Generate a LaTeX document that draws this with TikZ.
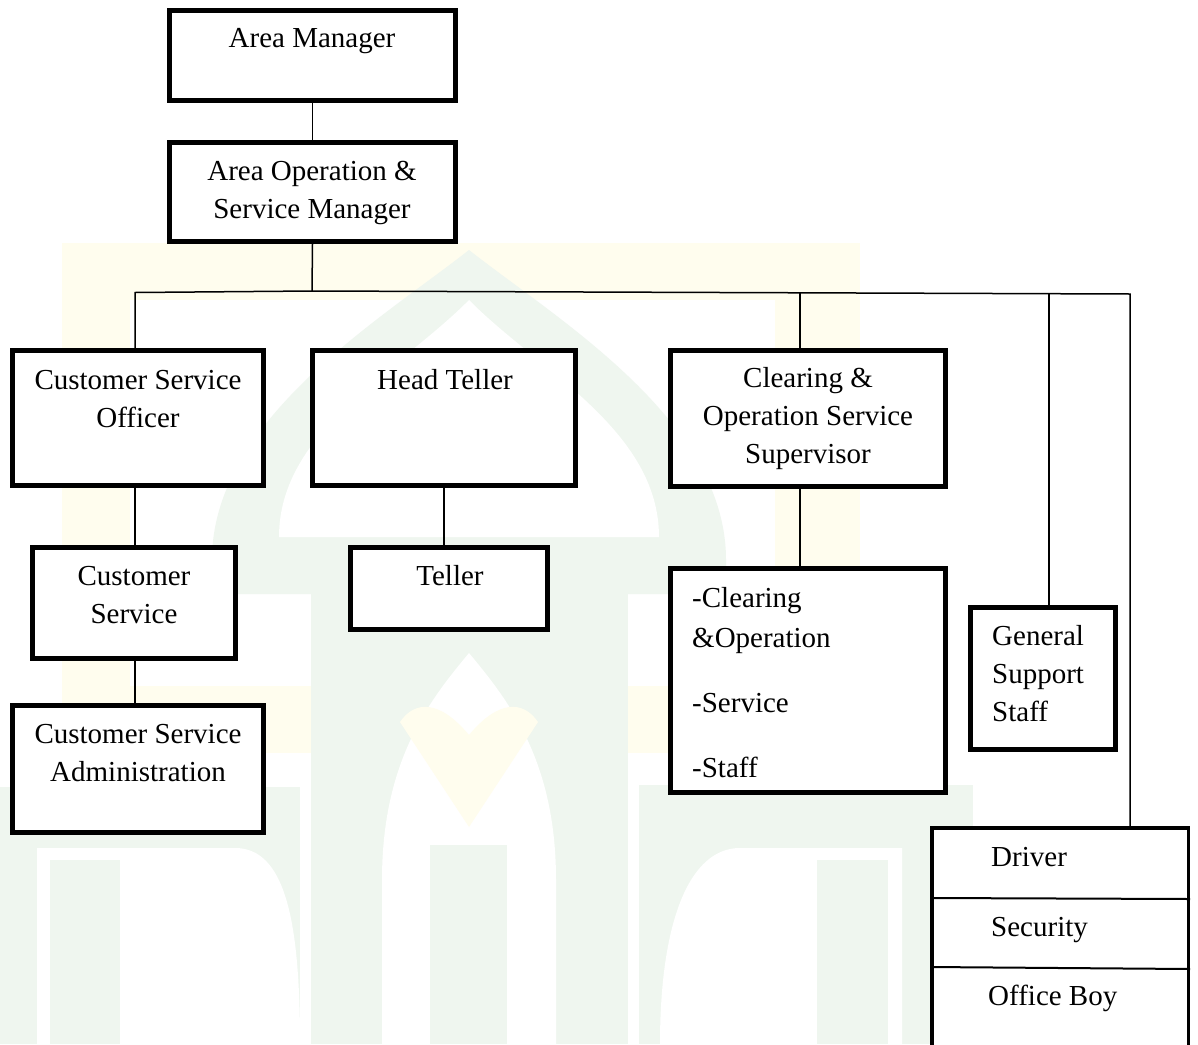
\documentclass[tikz,border=0pt]{standalone}
\usepackage{fontspec}
\setmainfont{Liberation Serif}
\usetikzlibrary{calc}
\definecolor{wmg}{RGB}{239,246,239}
\definecolor{wmy}{RGB}{255,253,238}
\tikzset{
  orgbox/.style={draw=black, line width=5pt, inner sep=0pt, fill=white},
  thinbox/.style={draw=black, line width=3.5pt, inner sep=0pt, fill=white},
  link/.style={draw=black, line width=1.5pt},
  divider/.style={draw=black, line width=2pt},
  ctxt/.style={inner sep=0pt, anchor=north, align=center, font=\fontsize{29}{38}\selectfont},
  ltxt/.style={inner sep=0pt, anchor=north west, align=left, font=\fontsize{29}{38}\selectfont},
}
\begin{document}
\begin{tikzpicture}[x=1pt,y=-1pt]
\useasboundingbox (0,0) rectangle (1198,1044);
\fill[white] (0,0) rectangle (1198,1044);
% faint watermark
\begin{scope}
\clip (0,0) rectangle (1198,1044);
% yellow frame
\fill[wmy] (62,243) rectangle (130,753);
\fill[wmy] (62,686) rectangle (324,753);
\fill[wmy] (775,243) rectangle (860,753);
\fill[wmy] (628,686) rectangle (860,753);
\fill[wmy] (130,243) rectangle (775,300);
% green dome
\fill[wmg] (212,594) -- (212,560) .. controls (212,420) and (380,320) .. (469,250)
  .. controls (558,320) and (726,420) .. (726,560) -- (726,594) -- cycle;
\fill[white] (279,537) .. controls (279,430) and (400,370) .. (469,300)
  .. controls (538,370) and (659,430) .. (659,537) -- cycle;
% inner arch
\fill[wmg] (311,594) rectangle (628,1044);
\fill[white] (382,1044) -- (382,880) .. controls (382,760) and (430,700) .. (469,653)
  .. controls (508,700) and (556,760) .. (556,880) -- (556,1044) -- cycle;
\fill[wmy] (400,722) .. controls (415,700) and (440,700) .. (469,735)
  .. controls (498,700) and (523,700) .. (538,722) -- (469,827) -- cycle;
\fill[wmg] (430,845) rectangle (507,1044);
% left letter
\fill[wmg] (0,787) rectangle (300,1044);
\fill[white] (37,848) -- (235,848) .. controls (285,848) and (300,920) .. (300,1044) -- (37,1044) -- cycle;
\fill[wmg] (50,860) rectangle (120,1044);
% right letter
\fill[wmg] (639,785) rectangle (973,1044);
\fill[white] (902,848) -- (740,848) .. controls (690,848) and (660,920) .. (660,1044) -- (902,1044) -- cycle;
\fill[wmg] (817,860) rectangle (888,1044);
\end{scope}

% boxes
\node[orgbox, minimum width=286pt, minimum height=90pt]  (am)   at (312.5,55.5) {};
\node[orgbox, minimum width=286pt, minimum height=99pt]  (aosm) at (312.5,192) {};
\node[orgbox, minimum width=251pt, minimum height=135pt] (cso)  at (138,418) {};
\node[orgbox, minimum width=263pt, minimum height=135pt] (ht)   at (444,418) {};
\node[orgbox, minimum width=275pt, minimum height=136pt] (coss) at (808,418.5) {};
\node[orgbox, minimum width=203pt, minimum height=111pt] (cs)   at (134,603) {};
\node[orgbox, minimum width=197pt, minimum height=82pt]  (tl)   at (449,588.5) {};
\node[orgbox, minimum width=251pt, minimum height=127pt] (csa)  at (138,769) {};
\node[orgbox, minimum width=275pt, minimum height=224pt] (cl)   at (808,680.5) {};
\node[orgbox, minimum width=145pt, minimum height=142pt] (gss)  at (1043,678.5) {};
\node[thinbox, minimum width=256.5pt, minimum height=260pt] (drv) at (1060,957.75) {};
\draw[divider] ($(drv.north west)+(0,72)$) coordinate (d1a) -- ($(drv.north east)+(0,73)$) coordinate (d1b);
\draw[divider] ($(drv.north west)+(0,141)$) coordinate (d2a) -- ($(drv.north east)+(0,143)$) coordinate (d2b);

% texts (first baseline = north + 26.6)
\node[ctxt] (tam)   at (312,20.4)  {\strut Area Manager};
\node[ctxt] (taosm) at (312,153.4) {\strut Area Operation \&\\\strut Service Manager};
\node[ctxt] (tcso)  at (138,362.4) {\strut Customer Service\\\strut Officer};
\node[ctxt] (tht)   at (445,362.4) {\strut Head Teller};
\node[ctxt] (tcoss) at (808,360.4) {\strut Clearing \&\\\strut Operation Service\\\strut Supervisor};
\node[ctxt] (tcs)   at (134,558.4) {\strut Customer\\\strut Service};
\node[ctxt] (ttl)   at (450,558.4) {\strut Teller};
\node[ctxt] (tcsa)  at (138,716.4) {\strut Customer Service\\\strut Administration};
\node[ltxt] (tcl)   at (692,580.4) {\strut -Clearing\\[2pt]\strut \&Operation\\[27pt]\strut -Service\\[27pt]\strut -Staff};
\node[ltxt] (tgss)  at (992,618.4) {\strut General\\\strut Support\\\strut Staff};
\node[ltxt] (tdrv)  at (991,839.4) {\strut Driver};
\node[ltxt] (tsec)  at (991,909.4) {\strut Security};
\node[ltxt] (tob)   at (988,978.4) {\strut Office Boy};

% connectors
\coordinate (J)  at (312,291);
\coordinate (BL) at (135,292.5);
\coordinate (B3) at (800,293.2);
\coordinate (B4) at (1049,293.6);
\coordinate (BR) at (1130,294);
\draw[link] (am.south) -- (aosm.north);
\draw[link] (aosm.south) -- (J);
\draw[link] (J) -- (BL) -- (BL |- cso.north);
\draw[link] (J) -- (BR) -- (BR |- drv.north);
\draw[link] (B3) -- (B3 |- coss.north);
\draw[link] (B4) -- (B4 |- gss.north);
\draw[link] (BL |- cso.south) -- (BL |- cs.north);
\draw[link] (BL |- cs.south) -- (BL |- csa.north);
\draw[link] (ht.south) -- (ht.south |- tl.north);
\draw[link] (B3 |- coss.south) -- (B3 |- cl.north);
\end{tikzpicture}
\end{document}
